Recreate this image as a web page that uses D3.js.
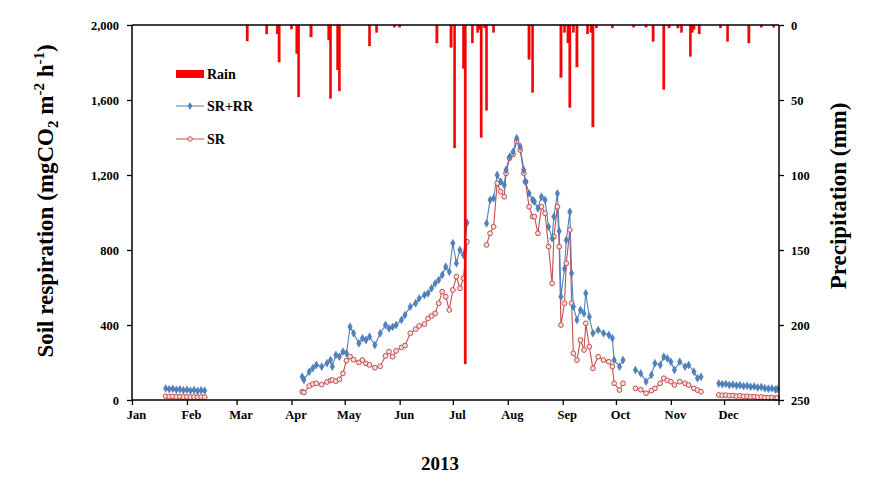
<!DOCTYPE html>
<html><head><meta charset="utf-8">
<script src="https://cdnjs.cloudflare.com/ajax/libs/d3/7.8.5/d3.min.js"></script>
<style>
body{margin:0;background:#fff}
svg{display:block}
text{font-family:"Liberation Serif","Times New Roman",serif;font-weight:bold;fill:#000}
</style>
</head><body>
<svg id="chart" width="875" height="485"></svg>
<script>
// ---- data ----
const year = 2013;
const monthLabels = ["Jan","Feb","Mar","Apr","May","Jun","Jul","Aug","Sep","Oct","Nov","Dec"];
const respTicks = [0, 400, 800, 1200, 1600, 2000];
const rainTicks = [0, 50, 100, 150, 200, 250];

// precipitation events: day of year (0 = Jan 1) and mm
const rainDays = [65,76,82,83,90,93,94,101,111,112,116,117,134,138,148,151,172,180,182,187,188,192,195,196,197,199,200,204,224,226,242,244,246,247,249,251,257,259,260,262,271,283,290,294,300,303,308,310,315,316,317,320,332,336,348,355,362];
const rainMm   = [10.7,6,6,24.7,2.7,19,48,8,10,49,30,44,14,5,1.5,1.5,12,15,82,29,226,12,5,3,75,2,57,5,23,45,35,5,12,55,5,28,6,5,68,2,2,1.5,1.5,11,43,2,2,5,21,5,3,6,2,11,12,1.5,1.5];

// soil respiration measurements: day of year, SR+RR and SR (mgCO2 m-2 h-1)
const days = [
  19,21,23,25,27,29,31,33,35,37,39,41,
  96,97,100,102,104,107,110,112,113,115,117,119,121,123,125,128,130,132,134,137,140,143,145,147,149,152,154,157,160,162,165,167,169,171,173,175,177,179,181,183,185,187,189,
  200,202,204,206,208,210,211,213,215,217,219,221,222,224,226,227,229,231,233,235,237,238,240,241,242,244,245,247,248,249,251,253,255,256,258,260,263,266,269,271,272,275,277,
  284,287,290,293,295,298,300,302,304,306,309,312,314,317,319,321,
  331,333,335,337,339,341,343,345,347,349,351,353,355,357,359,361,363,364
];
const srrr = [
  62,58,60,55,57,52,55,50,53,48,52,50,
  124,107,151,170,187,178,196,213,178,240,231,258,249,391,356,302,329,320,338,293,356,400,382,390,400,427,453,498,516,542,560,569,596,622,640,667,711,684,836,729,800,773,946,
  942,1067,1076,1200,1164,1147,1227,1298,1324,1396,1351,1227,1164,1102,1067,1058,1022,1084,1067,924,862,978,1102,900,551,700,853,1004,676,498,427,480,462,569,444,356,373,356,347,329,213,178,213,
  160,142,98,133,196,187,231,222,204,160,204,178,187,151,116,124,
  88,84,86,80,82,77,79,74,76,71,72,67,69,63,60,62,56,58
];
const sr = [
  20,18,19,17,18,16,17,15,16,15,16,15,
  44,40,75,85,89,82,96,104,107,100,110,142,210,231,215,200,213,195,187,172,180,235,258,231,262,280,290,356,378,395,405,435,448,462,516,578,551,480,587,658,596,649,844,
  827,889,924,1156,1111,1084,1209,1290,1310,1380,1333,1209,1164,1031,978,978,889,1031,996,818,622,871,1031,818,400,516,729,907,516,249,213,320,267,409,284,169,231,213,204,178,89,53,89,
  62,55,36,50,62,89,116,105,98,80,98,89,80,62,53,44,
  27,25,26,23,24,21,22,19,20,17,18,15,16,13,12,13,10,11
];

// ---- drawing ----
const svg = d3.select("#chart");
svg.append("rect").attr("width",875).attr("height",485).attr("fill","#fff");
const L = 132, R = 779, T = 25, B = 400;
const toDate = d => d3.timeDay.offset(new Date(year,0,1), d);

const x = d3.scaleTime().domain([new Date(year,0,1), new Date(year+1,0,1)]).range([L, R]);
const y = d3.scaleLinear().domain([0, 2000]).range([B, T]);
const yr = d3.scaleLinear().domain([0, 250]).range([T, B]);

// series points split into runs (gaps break the lines)
const pts = days.map((d,i) => ({t: toDate(d), d, a: srrr[i], b: sr[i]}));
const runs = [];
pts.forEach((p,i) => {
  if (i === 0 || p.d - pts[i-1].d > 6) runs.push([]);
  runs[runs.length-1].push(p);
});

const blue = "#4f81bd", rose = "#c0504d", rainCol = "#ff0000";
const lineA = d3.line().x(p => x(p.t)).y(p => y(p.a));
const lineB = d3.line().x(p => x(p.t)).y(p => y(p.b));

const gS = svg.append("g");
runs.forEach(r => {
  gS.append("path").attr("d", lineB(r)).attr("fill","none").attr("stroke", rose).attr("stroke-width",1.1);
  gS.append("path").attr("d", lineA(r)).attr("fill","none").attr("stroke", blue).attr("stroke-width",1.1);
});
gS.selectAll("circle.sr").data(pts).join("circle")
  .attr("cx", p => x(p.t)).attr("cy", p => y(p.b)).attr("r", 2.4)
  .attr("fill", "#f7dcdb").attr("stroke", rose).attr("stroke-width", 1);
const diamond = d3.symbol().type(d3.symbolDiamond).size(18);
gS.selectAll("path.srrr").data(pts).join("path")
  .attr("transform", p => `translate(${x(p.t)},${y(p.a)})`).attr("d", diamond)
  .attr("fill", blue).attr("stroke", "#3a6ea5").attr("stroke-width", 0.4);

// rain bars hanging from the top
const bw = 2.4;
svg.append("g").selectAll("rect").data(rainDays.map((d,i)=>({t: toDate(d), v: rainMm[i]}))).join("rect")
  .attr("x", p => x(p.t) - bw/2).attr("y", yr(0)).attr("width", bw)
  .attr("height", p => yr(p.v) - yr(0)).attr("fill", rainCol).attr("stroke", "#c81010").attr("stroke-width", 0.3);

// axes
const ax = svg.append("g").attr("stroke","#000").attr("stroke-width",1.5);
ax.append("line").attr("x1",L).attr("x2",R).attr("y1",B).attr("y2",B);
ax.append("line").attr("x1",L).attr("x2",R).attr("y1",T).attr("y2",T);
ax.append("line").attr("x1",L).attr("x2",L).attr("y1",T).attr("y2",B);
ax.append("line").attr("x1",R).attr("x2",R).attr("y1",T).attr("y2",B);

const monthTicks = d3.timeMonth.range(new Date(year,0,1), new Date(year+1,0,1));
const gx = svg.append("g").attr("transform", `translate(0,${B})`)
  .call(d3.axisBottom(x).tickValues(monthTicks).tickSize(5).tickFormat(d => monthLabels[d.getMonth()]));
gx.select(".domain").remove();
gx.selectAll(".tick line").attr("stroke","#000").attr("stroke-width",1.3);
gx.selectAll(".tick text").attr("font-size",12.5).attr("dx",4).attr("dy","0.9em")
  .attr("font-family",'"Liberation Serif",serif').attr("font-weight","bold");
// closing tick at end of year
gx.append("line").attr("x1",R).attr("x2",R).attr("y1",0).attr("y2",5).attr("stroke","#000").attr("stroke-width",1.3);

const gy = svg.append("g").attr("transform", `translate(${L},0)`)
  .call(d3.axisLeft(y).tickValues(respTicks).tickSize(5).tickPadding(8).tickFormat(d3.format(",")));
gy.select(".domain").remove();
gy.selectAll(".tick line").attr("stroke","#000").attr("stroke-width",1.3);
gy.selectAll(".tick text").attr("font-size",12.5).attr("font-family",'"Liberation Serif",serif').attr("font-weight","bold");

const gr = svg.append("g").attr("transform", `translate(${R},0)`)
  .call(d3.axisRight(yr).tickValues(rainTicks).tickSize(5).tickPadding(7));
gr.select(".domain").remove();
gr.selectAll(".tick line").attr("stroke","#000").attr("stroke-width",1.3);
gr.selectAll(".tick text").attr("font-size",12.5).attr("font-family",'"Liberation Serif",serif').attr("font-weight","bold");

// titles
const yt = svg.append("text").attr("transform","translate(53,201) rotate(-90)")
  .attr("text-anchor","middle").attr("font-size",23);
yt.append("tspan").text("Soil respiration (mgCO");
yt.append("tspan").text("2").attr("font-size",15).attr("dy",5);
yt.append("tspan").text(" m").attr("dy",-5);
yt.append("tspan").text("-2").attr("font-size",15).attr("dy",-9);
yt.append("tspan").text(" h").attr("dy",9);
yt.append("tspan").text("-1").attr("font-size",15).attr("dy",-9);
yt.append("tspan").text(")").attr("dy",9);

svg.append("text").attr("transform","translate(846,196) rotate(-90)")
  .attr("text-anchor","middle").attr("font-size",23).text("Precipitation (mm)");
svg.append("text").attr("x",440).attr("y",470).attr("text-anchor","middle").attr("font-size",19).text(year);

// legend
const lg = svg.append("g");
lg.append("rect").attr("x",176).attr("y",70).attr("width",28).attr("height",8).attr("fill",rainCol);
lg.append("text").attr("x",207).attr("y",79).attr("font-size",14).text("Rain");
lg.append("line").attr("x1",176).attr("x2",204).attr("y1",106).attr("y2",106).attr("stroke",blue).attr("stroke-width",1);
lg.append("path").attr("transform","translate(190,106)").attr("d",diamond).attr("fill",blue);
lg.append("text").attr("x",207).attr("y",111).attr("font-size",14).text("SR+RR");
lg.append("line").attr("x1",176).attr("x2",204).attr("y1",139).attr("y2",139).attr("stroke",rose).attr("stroke-width",1);
lg.append("circle").attr("cx",190).attr("cy",139).attr("r",2.3).attr("fill","#f7dcdb").attr("stroke",rose).attr("stroke-width",0.9);
lg.append("text").attr("x",207).attr("y",144).attr("font-size",14).text("SR");
</script>
</body></html>
